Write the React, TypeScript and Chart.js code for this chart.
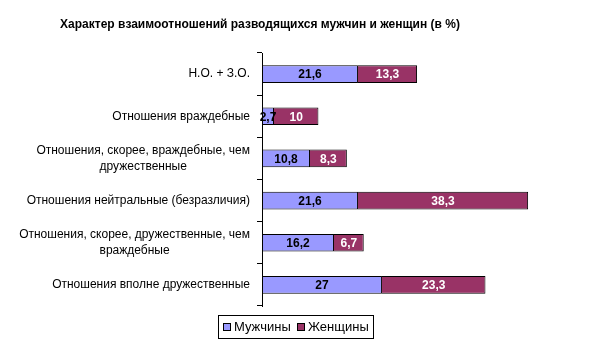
import React, { useEffect, useRef } from "react";
import { Chart, registerables } from "chart.js";
Chart.register(...registerables);

const chartTitle = "Характер взаимоотношений разводящихся мужчин и женщин (в %)";
const categories: string[][] = [
  ["Н.О. + З.О."],
  ["Отношения враждебные"],
  ["Отношения, скорее, враждебные, чем", "дружественные"],
  ["Отношения нейтральные (безразличия)"],
  ["Отношения, скорее, дружественные, чем", "враждебные"],
  ["Отношения вполне дружественные"],
];
const seriesNames = ["Мужчины", "Женщины"];
const men = [21.6, 2.7, 10.8, 21.6, 16.2, 27];
const women = [13.3, 10, 8.3, 38.3, 6.7, 23.3];
const colors = ["#9999FF", "#993366"];
const labelColors = ["#000000", "#FFFFFF"];

const FONT = "'Liberation Sans', Arial, sans-serif";

const customDraw = {
  id: "customDraw",
  afterDraw(chart: any) {
    const ctx = chart.ctx;
    const yScale = chart.scales.y;
    const area = chart.chartArea;
    ctx.save();
    // title
    ctx.fillStyle = "#000";
    ctx.font = `bold 12px ${FONT}`;
    ctx.textAlign = "center";
    ctx.textBaseline = "middle";
    ctx.fillText(chartTitle, 260, 25);

    // category labels
    ctx.font = `12px ${FONT}`;
    const right = area.left - 12;
    categories.forEach((lines, i) => {
      const yc = yScale.getPixelForValue(i);
      const widths = lines.map((l) => ctx.measureText(l).width);
      const maxW = Math.max(...widths);
      const cx = right - maxW / 2;
      lines.forEach((l, j) => {
        const y = yc + (j - (lines.length - 1) / 2) * 16;
        ctx.textAlign = "center";
        ctx.fillText(l, cx, y);
      });
    });

    // data labels
    ctx.font = `bold 12px ${FONT}`;
    chart.data.datasets.forEach((ds: any, di: number) => {
      const meta = chart.getDatasetMeta(di);
      meta.data.forEach((el: any, i: number) => {
        const v = ds.data[i];
        const x = (el.x + el.base) / 2;
        ctx.fillStyle = labelColors[di];
        ctx.textAlign = "center";
        ctx.fillText(String(v).replace(".", ","), x, el.y + 1);
      });
    });

    // legend
    const lx = 218, ly = 315, lw = 155, lh = 23;
    ctx.strokeStyle = "#000";
    ctx.lineWidth = 1;
    ctx.strokeRect(lx + 0.5, ly + 0.5, lw, lh);
    ctx.font = `13px ${FONT}`;
    ctx.textAlign = "left";
    const items = [
      { x: 223, tx: 234 },
      { x: 297, tx: 308 },
    ];
    items.forEach((it, k) => {
      ctx.fillStyle = colors[k];
      ctx.fillRect(it.x, 323, 7, 7);
      ctx.strokeStyle = "#000";
      ctx.strokeRect(it.x + 0.5, 323.5, 7, 7);
      ctx.fillStyle = "#000";
      ctx.fillText(seriesNames[k], it.tx, 327);
    });
    ctx.restore();
  },
};

export default function App() {
  const ref = useRef<HTMLCanvasElement>(null);
  useEffect(() => {
    document.body.style.margin = "0";
    const chart = new Chart(ref.current as HTMLCanvasElement, {
      type: "bar",
      data: {
        labels: categories.map((c) => c.join(" ")),
        datasets: [
          {
            label: seriesNames[0],
            data: men,
            backgroundColor: colors[0],
            borderColor: "#000",
            borderWidth: 1,
            borderSkipped: false,
            barPercentage: 0.42,
            categoryPercentage: 1,
          },
          {
            label: seriesNames[1],
            data: women,
            backgroundColor: colors[1],
            borderColor: "#000",
            borderWidth: 1,
            borderSkipped: "left",
            barPercentage: 0.42,
            categoryPercentage: 1,
          },
        ],
      },
      options: {
        indexAxis: "y",
        animation: false,
        responsive: false,
        layout: { padding: { top: 53, bottom: 45, left: 0, right: 16 } },
        plugins: {
          legend: { display: false },
          title: { display: false },
          tooltip: { enabled: false },
        },
        scales: {
          x: { type: "linear", stacked: true, min: 0, max: 70, display: false },
          y: {
            type: "category",
            stacked: true,
            ticks: { display: false },
            grid: {
              drawOnChartArea: false,
              drawTicks: true,
              tickLength: 5,
              color: "#000",
              offset: true,
            },
            border: { display: true, color: "#000", width: 1 },
            afterFit: (scale: any) => {
              scale.width = 262;
            },
          },
        },
      },
      plugins: [customDraw],
    } as any);
    return () => chart.destroy();
  }, []);
  return (
    <div style={{ position: "fixed", left: 0, top: 0, width: 589, height: 351, background: "#fff" }}>
      <canvas ref={ref} width={589} height={351} />
    </div>
  );
}
